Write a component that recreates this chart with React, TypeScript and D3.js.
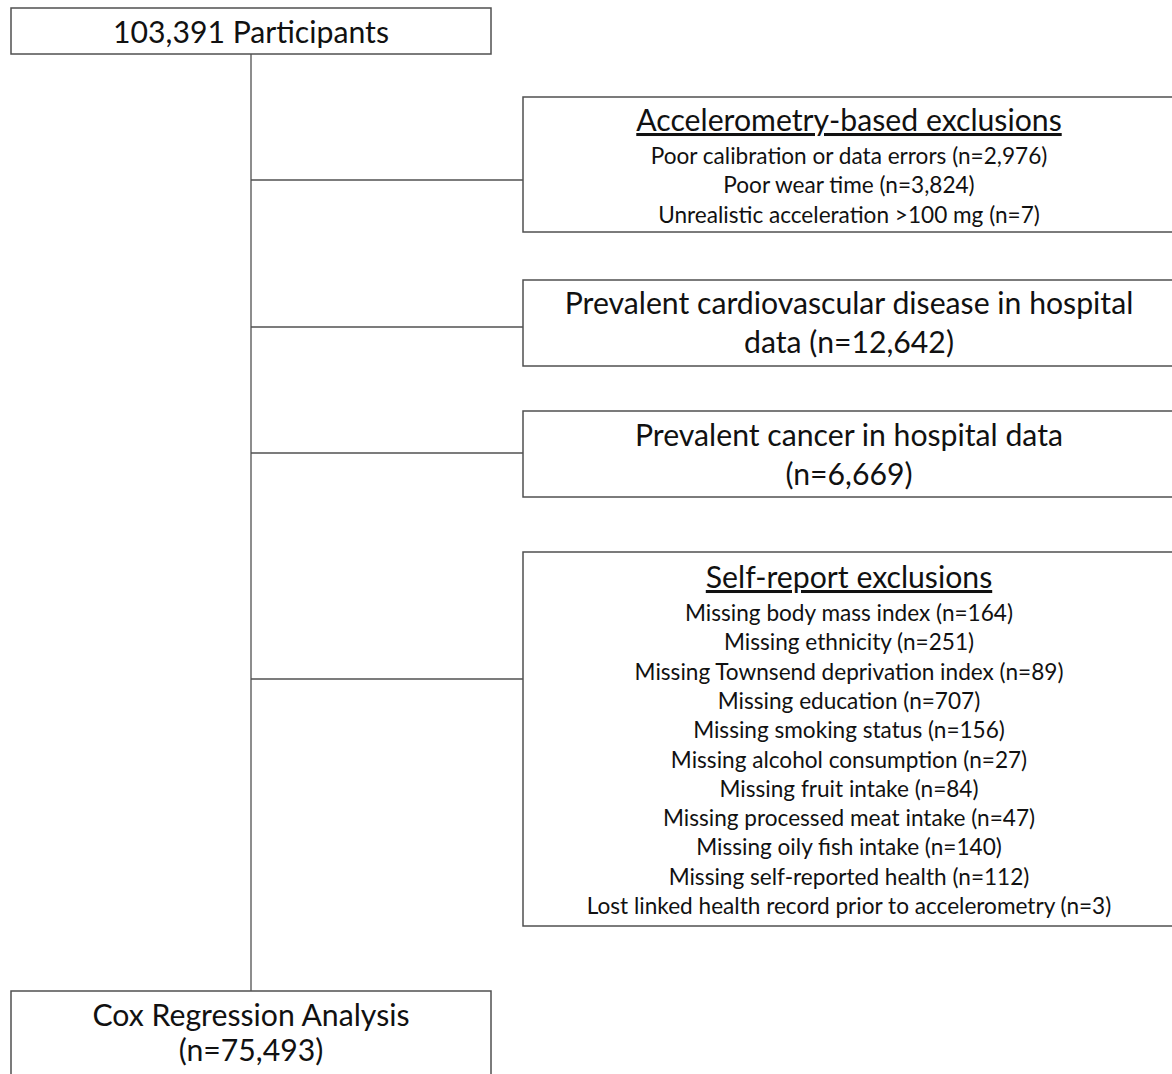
import * as d3 from 'd3';
import React, { useEffect, useRef } from 'react';

// flowchart content
const startLabel = ['103,391 Participants'];
const endLabel = ['Cox Regression Analysis', '(n=75,493)'];

const accelTitle = 'Accelerometry-based exclusions';
const accelItems = [
  'Poor calibration or data errors (n=2,976)',
  'Poor wear time (n=3,824)',
  'Unrealistic acceleration >100 mg (n=7)',
];
const cvdLabel = ['Prevalent cardiovascular disease in hospital', 'data (n=12,642)'];
const cancerLabel = ['Prevalent cancer in hospital data', '(n=6,669)'];
const selfTitle = 'Self-report exclusions';
const selfItems = [
  'Missing body mass index (n=164)',
  'Missing ethnicity (n=251)',
  'Missing Townsend deprivation index (n=89)',
  'Missing education (n=707)',
  'Missing smoking status (n=156)',
  'Missing alcohol consumption (n=27)',
  'Missing fruit intake (n=84)',
  'Missing processed meat intake (n=47)',
  'Missing oily fish intake (n=140)',
  'Missing self-reported health (n=112)',
  'Lost linked health record prior to accelerometry (n=3)',
];

const W = 1172;
const H = 1074;
const FONT = 'Lato, "Open Sans", sans-serif';
const BIG = 30.2;
const SMALL = 22.6;

function App() {
  const svgRef = useRef<SVGSVGElement>(null);

  useEffect(() => {
    const svg = d3.select(svgRef.current);
    svg.selectAll('*').remove();

    const stroke = '#505050';
    const spineX = 251;

    // main boxes on the left
    const mainBoxes = [
      { x: 11, y: 8, w: 480, h: 46, lines: startLabel, first: 42.5, step: 35 },
      { x: 11, y: 991, w: 480, h: 100, lines: endLabel, first: 1026, step: 35 },
    ];

    // exclusion boxes on the right
    const sideBoxes = [
      { y: 97, h: 135, join: 180, title: accelTitle, lines: accelItems, first: 131, step: 29.3 },
      { y: 280, h: 86, join: 327, title: null, lines: cvdLabel, first: 313.5, step: 39 },
      { y: 411, h: 86, join: 453, title: null, lines: cancerLabel, first: 445.5, step: 39 },
      { y: 552, h: 374, join: 679, title: selfTitle, lines: selfItems, first: 588, step: 29.3 },
    ];
    const sideX = 523;
    const sideW = 652;
    const sideCx = sideX + sideW / 2;

    // spine
    svg.append('line')
      .attr('x1', spineX).attr('x2', spineX)
      .attr('y1', 54).attr('y2', 991)
      .attr('stroke', stroke).attr('stroke-width', 1.3);

    svg.selectAll('.join')
      .data(sideBoxes)
      .join('line')
      .attr('class', 'join')
      .attr('x1', spineX).attr('x2', sideX)
      .attr('y1', (d) => d.join).attr('y2', (d) => d.join)
      .attr('stroke', stroke).attr('stroke-width', 1.3);

    mainBoxes.forEach((b) => {
      svg.append('rect')
        .attr('x', b.x).attr('y', b.y).attr('width', b.w).attr('height', b.h)
        .attr('fill', 'white').attr('stroke', stroke).attr('stroke-width', 1.5);
      b.lines.forEach((t, i) => {
        svg.append('text')
          .attr('x', b.x + b.w / 2).attr('y', b.first + i * b.step)
          .attr('text-anchor', 'middle')
          .attr('font-family', FONT).attr('font-size', BIG)
          .attr('fill', '#111')
          .text(t);
      });
    });

    sideBoxes.forEach((b) => {
      svg.append('rect')
        .attr('x', sideX).attr('y', b.y).attr('width', sideW).attr('height', b.h)
        .attr('fill', 'white').attr('stroke', stroke).attr('stroke-width', 1.5);
      let y = b.first;
      if (b.title) {
        svg.append('text')
          .attr('x', sideCx).attr('y', y)
          .attr('text-anchor', 'middle')
          .attr('font-family', FONT).attr('font-size', BIG)
          .attr('fill', '#111')
          .style('text-decoration', 'underline')
          .text(b.title);
        y += 33;
        b.lines.forEach((t, i) => {
          svg.append('text')
            .attr('x', sideCx).attr('y', y + i * b.step)
            .attr('text-anchor', 'middle')
            .attr('font-family', FONT).attr('font-size', SMALL)
            .attr('fill', '#111')
            .text(t);
        });
      } else {
        b.lines.forEach((t, i) => {
          svg.append('text')
            .attr('x', sideCx).attr('y', y + i * b.step)
            .attr('text-anchor', 'middle')
            .attr('font-family', FONT).attr('font-size', BIG)
            .attr('fill', '#111')
            .text(t);
        });
      }
    });
  }, []);

  return (
    <svg
      ref={svgRef}
      width={W}
      height={H}
      style={{ position: 'absolute', left: 0, top: 0, background: 'white' }}
    />
  );
}

export default App;
